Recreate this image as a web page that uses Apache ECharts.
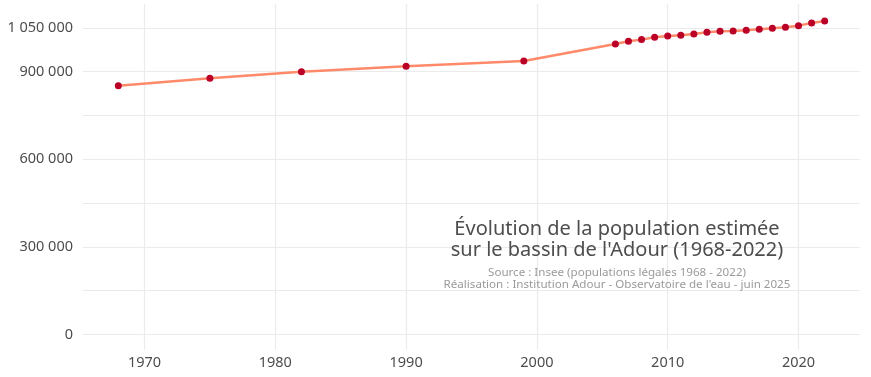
<!DOCTYPE html>
<html>
<head>
<meta charset="utf-8">
<script src="https://cdn.jsdelivr.net/npm/echarts@6/dist/echarts.min.js"></script>
<style>
  html, body { margin: 0; padding: 0; background: #fff; }
  #chart { width: 871px; height: 377px; }
</style>
</head>
<body>
<div id="chart"></div>
<script>
const years = [1968, 1975, 1982, 1990, 1999, 2006, 2007, 2008, 2009, 2010, 2011, 2012, 2013, 2014,
  2015, 2016, 2017, 2018, 2019, 2020, 2021, 2022]
const population = [852000, 877700, 900000, 918800, 936600, 995200, 1004400, 1010000, 1018000, 1022600,
  1025000, 1029500, 1035300, 1038700, 1039700, 1042000, 1045600, 1049000, 1052400, 1057900, 1067000, 1073800]
const xTicks = [1970, 1980, 1990, 2000, 2010, 2020]
const yGrid = [0, 150000, 300000, 450000, 600000, 750000, 900000, 1050000]
const yLabels = [0, 300000, 600000, 900000, 1050000]
const title = ['Évolution de la population estimée', 'sur le bassin de l\'Adour (1968-2022)']
const caption = ['Source : Insee (populations légales 1968 - 2022)',
  'Réalisation : Institution Adour - Observatoire de l\'eau - juin 2025']

const font = 'Noto Sans'
const chart = echarts.init(document.getElementById('chart'))

function fmt(v) {
  return String(v).replace(/\B(?=(\d{3})+(?!\d))/g, ' ')
}

function label(text, y, size, color) {
  return {
    type: 'text', x: 617, y: y, z: 100,
    style: { text: text, fill: color, font: size + 'px ' + font, textAlign: 'center', textVerticalAlign: 'middle' }
  }
}

chart.setOption({
  animation: false,
  grid: { left: 83, right: 11, top: 4, bottom: 27, containLabel: false },
  xAxis: {
    type: 'value',
    min: 1965.3,
    max: 2024.7,
    axisLine: { show: false },
    axisTick: { show: false, customValues: xTicks },
    axisLabel: { customValues: xTicks, margin: 5, color: '#4d4d4d', fontSize: 14.5, fontFamily: font, formatter: (v) => String(v) },
    splitLine: { show: true, lineStyle: { color: '#ebebeb', width: 1.2 } }
  },
  yAxis: {
    type: 'value',
    min: -53000,
    max: 1132000,
    axisLine: { show: false },
    axisTick: { show: false, customValues: yGrid },
    axisLabel: { customValues: yLabels, margin: 10, color: '#4d4d4d', fontSize: 14.5, fontFamily: font, formatter: fmt },
    splitLine: { show: true, lineStyle: { color: '#ebebeb', width: 1.2 } }
  },
  graphic: [
    label(title[0], 229, 20, '#4d4d4d'),
    label(title[1], 250, 20, '#4d4d4d'),
    label(caption[0], 273, 11.6, '#9a9a9a'),
    label(caption[1], 285, 11.6, '#9a9a9a')
  ],
  series: [{
    type: 'line',
    data: years.map((y, i) => [y, population[i]]),
    symbol: 'circle',
    symbolSize: 7,
    lineStyle: { color: '#ff8a6a', width: 2.5 },
    itemStyle: { color: '#bb0027' }
  }]
})
</script>
</body>
</html>
